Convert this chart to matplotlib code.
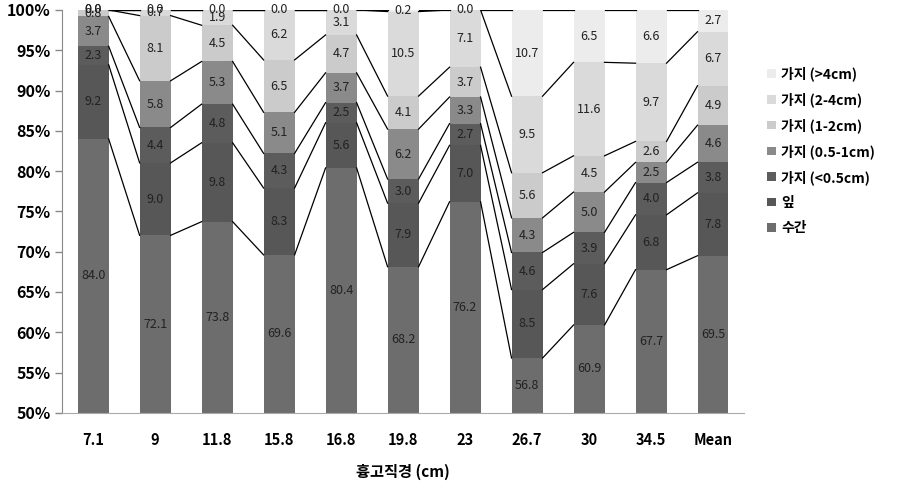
import matplotlib
matplotlib.use('Agg')
import matplotlib.pyplot as plt
import numpy as np
from matplotlib.patches import Patch

plt.rcParams['font.family'] = ['Noto Sans CJK KR', 'DejaVu Sans']

# categories (DBH, cm)
categories = ['7.1', '9', '11.8', '15.8', '16.8', '19.8', '23', '26.7', '30', '34.5', 'Mean']

# components, bottom to top
series_names = ['수간', '잎', '가지 (<0.5cm)', '가지 (0.5-1cm)', '가지 (1-2cm)', '가지 (2-4cm)', '가지 (>4cm)']
trunk = [84.0, 72.1, 73.8, 69.6, 80.4, 68.2, 76.2, 56.8, 60.9, 67.7, 69.5]
leaf = [9.2, 9.0, 9.8, 8.3, 5.6, 7.9, 7.0, 8.5, 7.6, 6.8, 7.8]
br_05 = [2.3, 4.4, 4.8, 4.3, 2.5, 3.0, 2.7, 4.6, 3.9, 4.0, 3.8]
br_05_1 = [3.7, 5.8, 5.3, 5.1, 3.7, 6.2, 3.3, 4.3, 5.0, 2.5, 4.6]
br_1_2 = [0.8, 8.1, 4.5, 6.5, 4.7, 4.1, 3.7, 5.6, 4.5, 2.6, 4.9]
br_2_4 = [0.0, 0.7, 1.9, 6.2, 3.1, 10.5, 7.1, 9.5, 11.6, 9.7, 6.7]
br_4 = [0.0, 0.0, 0.0, 0.0, 0.0, 0.2, 0.0, 10.7, 6.5, 6.6, 2.7]

colors = ['#6d6d6d', '#575757', '#5c5c5c', '#8a8a8a', '#cbcbcb', '#dadada', '#ececec']

data = np.array([trunk, leaf, br_05, br_05_1, br_1_2, br_2_4, br_4])
pct = data / data.sum(axis=0) * 100   # 100% stacked, like Excel

fig = plt.figure(figsize=(9.14, 4.98), dpi=100)
ax = fig.add_axes([0.068, 0.171, 0.746, 0.809])

x = np.arange(len(categories))
w = 0.5
bottom = np.zeros(len(categories))
tops = []
for i in range(len(series_names)):
    ax.bar(x, pct[i], w, bottom=bottom, color=colors[i], zorder=2)
    for j in range(len(categories)):
        lo = max(bottom[j], 50)
        hi = bottom[j] + pct[i][j]
        # labels stay where Excel puts them, even the overlapping 0.0 ones
        ax.text(x[j], (lo + hi) / 2, '%.1f' % data[i][j], ha='center', va='center',
                fontsize=9, color='#222222', zorder=4)
    bottom = bottom + pct[i]
    tops.append(bottom.copy())

# series lines between bars
for t in tops:
    for j in range(len(categories) - 1):
        ax.plot([x[j] + w / 2, x[j + 1] - w / 2], [t[j], t[j + 1]], color='black', lw=0.9, zorder=3)

ax.set_ylim(50, 100)
ax.set_xlim(-0.5, len(categories) - 0.5)
ax.set_yticks(np.arange(50, 101, 5))
ax.set_yticklabels(['%d%%' % v for v in range(50, 101, 5)], fontsize=11.5, fontweight='bold')
ax.set_xticks(x)
ax.set_xticklabels(categories, fontsize=10.5, fontweight='bold')
ax.tick_params(axis='x', length=0, pad=14)
ax.tick_params(axis='y', length=5, color='#888888', width=1)
for s in ['top', 'right']:
    ax.spines[s].set_visible(False)
ax.spines['left'].set_color('#888888')
ax.spines['bottom'].set_color('#aaaaaa')
ax.set_xlabel('흉고직경 (cm)', fontsize=11, fontweight='bold', labelpad=11)

handles = [Patch(facecolor=colors[i], label=series_names[i]) for i in range(len(series_names))][::-1]
fig.legend(handles=handles, loc='upper left', bbox_to_anchor=(0.826, 0.892), frameon=False,
           handlelength=0.6, handleheight=0.6, handletextpad=0.4, labelspacing=0.8,
           prop={'size': 10, 'weight': 'bold'})

fig.savefig('out.png', dpi=100)
